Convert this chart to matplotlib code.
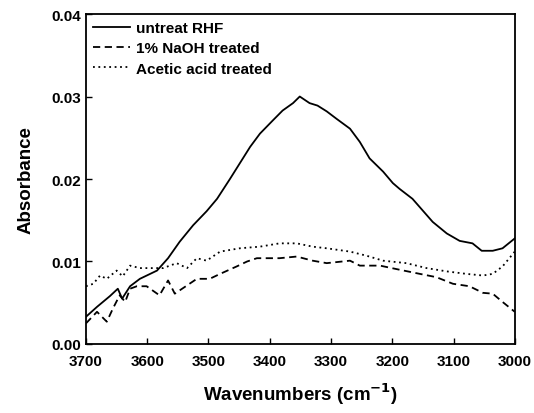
import matplotlib.pyplot as plt

plt.rcParams['font.family'] = ['Liberation Sans', 'DejaVu Sans']
plt.rcParams['font.weight'] = 'bold'

# untreated RHF (solid)
wn_untreat = [3700, 3682, 3661, 3648, 3641, 3628, 3612, 3584, 3566, 3547, 3525, 3503,
              3486, 3465, 3432, 3416, 3395, 3379, 3362, 3351, 3335, 3322, 3307, 3291,
              3269, 3253, 3237, 3215, 3199, 3188, 3167, 3134, 3111, 3090, 3069, 3054,
              3036, 3020, 3000]
abs_untreat = [0.0033, 0.0045, 0.0058, 0.0067, 0.0055, 0.0070, 0.0079, 0.0089, 0.0104,
               0.0124, 0.0144, 0.0161, 0.0176, 0.0200, 0.0239, 0.0255, 0.0271, 0.0283,
               0.0292, 0.0300, 0.0292, 0.0289, 0.0282, 0.0273, 0.0261, 0.0245, 0.0225,
               0.0209, 0.0195, 0.0188, 0.0176, 0.0148, 0.0134, 0.0125, 0.0122, 0.0113,
               0.0113, 0.0116, 0.0128]

# 1% NaOH treated (dashed)
wn_naoh = [3700, 3682, 3666, 3656, 3645, 3636, 3628, 3617, 3601, 3580, 3566, 3555,
           3535, 3519, 3498, 3481, 3454, 3437, 3421, 3384, 3356, 3330, 3307, 3269,
           3253, 3220, 3188, 3155, 3128, 3101, 3074, 3052, 3036, 3020, 3000]
abs_naoh = [0.0025, 0.0039, 0.0027, 0.0043, 0.0059, 0.0051, 0.0067, 0.0070, 0.0070,
            0.0059, 0.0077, 0.0061, 0.0071, 0.0079, 0.0079, 0.0085, 0.0094, 0.0100,
            0.0104, 0.0104, 0.0106, 0.0101, 0.0098, 0.0101, 0.0095, 0.0095, 0.0090,
            0.0085, 0.0081, 0.0073, 0.0070, 0.0062, 0.0061, 0.0051, 0.0039]

# acetic acid treated (dotted)
wn_acetic = [3700, 3688, 3677, 3666, 3650, 3640, 3628, 3612, 3596, 3574, 3552, 3535,
             3519, 3503, 3481, 3449, 3416, 3384, 3356, 3330, 3307, 3269, 3242, 3215,
             3177, 3144, 3111, 3079, 3052, 3036, 3020, 3000]
abs_acetic = [0.0070, 0.0073, 0.0083, 0.0079, 0.0089, 0.0082, 0.0095, 0.0092, 0.0092,
              0.0092, 0.0098, 0.0092, 0.0104, 0.0101, 0.0112, 0.0116, 0.0118, 0.0122,
              0.0122, 0.0118, 0.0116, 0.0112, 0.0107, 0.0101, 0.0098, 0.0092, 0.0088,
              0.0085, 0.0083, 0.0085, 0.0094, 0.0112]

fig = plt.figure(figsize=(5.34, 4.14), dpi=100)
ax = fig.add_axes([0.161, 0.1667, 0.803, 0.797])

ax.plot(wn_untreat, abs_untreat, color='black', linestyle='-', linewidth=1.3, label='untreat RHF')
ax.plot(wn_naoh, abs_naoh, color='black', linestyle=(0, (4, 2.5)), linewidth=1.3, label='1% NaOH treated')
ax.plot(wn_acetic, abs_acetic, color='black', linestyle=(0, (1, 2)), linewidth=1.3, label='Acetic acid treated')

ax.set_xlim(3700, 3000)
ax.set_ylim(0, 0.04)
ax.set_xticks([3700, 3600, 3500, 3400, 3300, 3200, 3100, 3000])
ax.set_yticks([0.00, 0.01, 0.02, 0.03, 0.04])
ax.set_yticklabels(['0.00', '0.01', '0.02', '0.03', '0.04'])
ax.tick_params(direction='in', length=4, width=1, labelsize=11)
ax.tick_params(axis='x', pad=7)
for lbl in ax.get_xticklabels() + ax.get_yticklabels():
    lbl.set_fontweight('bold')
for sp in ax.spines.values():
    sp.set_linewidth(1.3)

ax.set_xlabel('Wavenumbers (cm$^{\\mathbf{-1}}$)', fontsize=13.5, fontweight='bold', labelpad=9)
ax.set_ylabel('Absorbance', fontsize=13.5, fontweight='bold', labelpad=12)

ax.legend(loc='upper left', frameon=False, handlelength=2.4,
          handletextpad=0.4, labelspacing=0.42, borderaxespad=0.05,
          prop={'weight': 'bold', 'size': 11})

fig.savefig('out.png', dpi=100)
